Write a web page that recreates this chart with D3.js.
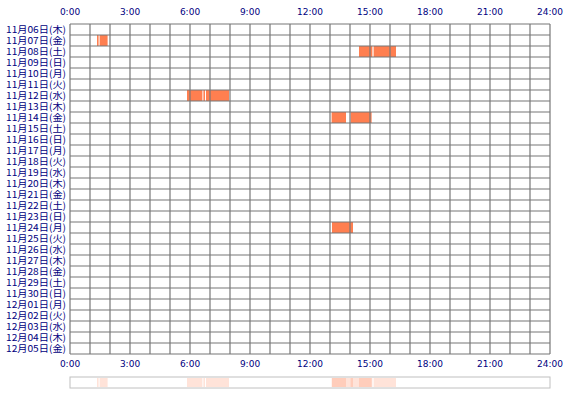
<!DOCTYPE html>
<html><head><meta charset="utf-8">
<script src="https://cdn.jsdelivr.net/npm/d3@7"></script>
<style>body{margin:0;background:#fff}</style>
</head><body>
<script>
var days = ['11月06日(木)','11月07日(金)','11月08日(土)','11月09日(日)','11月10日(月)','11月11日(火)','11月12日(水)','11月13日(木)','11月14日(金)','11月15日(土)','11月16日(日)','11月17日(月)','11月18日(火)','11月19日(水)','11月20日(木)','11月21日(金)','11月22日(土)','11月23日(日)','11月24日(月)','11月25日(火)','11月26日(水)','11月27日(木)','11月28日(金)','11月29日(土)','11月30日(日)','12月01日(月)','12月02日(火)','12月03日(水)','12月04日(木)','12月05日(金)']
var hourTicks = [0,3,6,9,12,15,18,21,24]
// [day index, start hour, end hour]
var sessions = [
  [1,1.35,1.43],[1,1.48,1.88],
  [2,14.45,15.12],[2,15.18,16.3],
  [6,5.85,6.62],[6,6.67,6.75],[6,6.8,7.95],
  [8,13.08,13.8],[8,14.03,15.08],
  [18,13.1,14.15]
]

var svg = d3.select('body').append('svg').attr('width',570).attr('height',400)
var x = d3.scaleLinear().domain([0,24]).range([70,550])
var y = d3.scaleBand().domain(d3.range(days.length)).range([24,354])

// bars
svg.selectAll('rect.s').data(sessions).enter().append('rect')
  .attr('x', function(d){ return x(d[1]) })
  .attr('width', function(d){ return x(d[2]) - x(d[1]) })
  .attr('y', function(d){ return y(d[0]) })
  .attr('height', y.bandwidth())
  .attr('fill','#ff7f50')

// grid
svg.selectAll('line.v').data(d3.range(25)).enter().append('line')
  .attr('x1', function(d){ return x(d) }).attr('x2', function(d){ return x(d) })
  .attr('y1',24).attr('y2',354).attr('stroke','#777').attr('stroke-width',1.2)
svg.selectAll('line.h').data(d3.range(days.length+1)).enter().append('line')
  .attr('x1',70).attr('x2',550)
  .attr('y1', function(d){ return 24 + d*y.step() }).attr('y2', function(d){ return 24 + d*y.step() })
  .attr('stroke','#777').attr('stroke-width',1.2)

// labels
svg.selectAll('text.d').data(days).enter().append('text')
  .attr('x',66).attr('y', function(d,i){ return y(i) + y.bandwidth()/2 + 3.5 })
  .attr('text-anchor','end').attr('font-size',9.5).attr('font-family','Noto Sans CJK JP')
  .attr('textLength',60).attr('lengthAdjust','spacingAndGlyphs')
  .attr('fill','#000080').text(function(d){ return d })
;[15,367].forEach(function(ty){
  svg.selectAll(null).data(hourTicks).enter().append('text')
    .attr('x', function(d){ return x(d) }).attr('y', ty)
    .attr('text-anchor','middle').attr('font-size',9).attr('font-family','DejaVu Sans')
    .attr('fill','#000080').text(function(d){ return d + ':00' })
})

// summary band
svg.append('rect').attr('x',70).attr('y',377).attr('width',480).attr('height',11)
  .attr('fill','#fff').attr('stroke','#c0c0c0')
svg.selectAll('rect.b').data(sessions).enter().append('rect')
  .attr('x', function(d){ return x(d[1]) })
  .attr('width', function(d){ return x(d[2]) - x(d[1]) })
  .attr('y',378).attr('height',9)
  .attr('fill','#ff7f50').attr('opacity',0.22)
</script>
</body></html>
